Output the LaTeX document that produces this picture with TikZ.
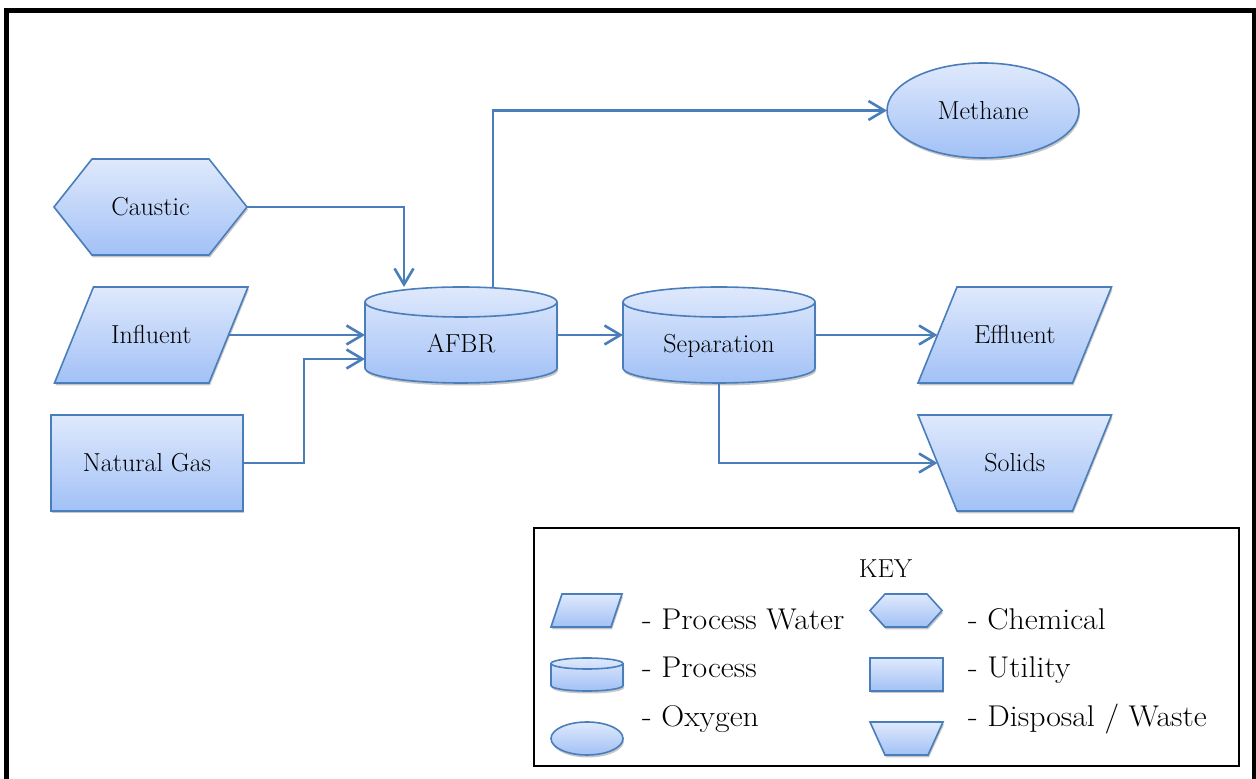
\documentclass[tikz,border=0pt]{standalone}
\usepackage{fontspec}
\usetikzlibrary{shapes.geometric,arrows.meta,shadows}
\pgfdeclarelayer{background}
\pgfsetlayers{background,main}
\definecolor{ln}{RGB}{74,126,187}
\definecolor{ftop}{RGB}{223,233,252}
\definecolor{fbot}{RGB}{162,193,246}
\newcommand\parashp[2]{\path[shp] ([xshift=#2]#1.north west) -- ([xshift=#2]#1.north east) -- ([xshift=-#2]#1.south east) -- ([xshift=-#2]#1.south west) -- cycle;}
\newcommand\trapshp[2]{\path[shp] ([xshift=-#2]#1.north west) -- ([xshift=#2]#1.north east) -- ([xshift=-#2]#1.south east) -- ([xshift=#2]#1.south west) -- cycle;}
\newcommand\hexshp[2]{\path[shp] (#1.west) -- ([xshift=#2]#1.north west) -- ([xshift=-#2]#1.north east) -- (#1.east) -- ([xshift=-#2]#1.south east) -- ([xshift=#2]#1.south west) -- cycle;}
\newcommand\cylshp[3]{\path[shp] ([yshift=-#3]#1.north west) -- ([yshift=#3]#1.south west) arc[start angle=180,end angle=360,x radius=#2,y radius=#3] -- ([yshift=-#3]#1.north east) arc[start angle=0,end angle=180,x radius=#2,y radius=#3] -- cycle;
\draw[draw=ln, line width=1.6pt] ([yshift=-#3]#1.north west) arc[start angle=180,end angle=360,x radius=#2,y radius=#3];}
\begin{document}
\begin{tikzpicture}[x=1pt,y=1pt,
  shp/.style={draw=ln, line width=1.6pt, top color=ftop, bottom color=fbot,
    drop shadow={shadow xshift=1pt, shadow yshift=-2.5pt, opacity=0.22, fill=black}},
  box/.style={inner sep=0pt, outer sep=0pt, font=\fontsize{26}{30}\selectfont, text height=18pt, text depth=0pt},
  cyl/.style={box, minimum width=192pt, minimum height=96pt, text height=36pt},
  kbox/.style={inner sep=0pt, outer sep=0pt},
  keytxt/.style={font=\fontsize{30}{34}\selectfont, inner sep=0pt, anchor=base west, xscale=1.06, transform shape},
  con/.style={draw=ln, line width=2.6pt, -{Straight Barb[length=16pt,width=19pt]}}]
\useasboundingbox (0,0) rectangle (1256,779);
\begin{scope}
\clip (0,0) rectangle (1256,779);
\draw[line width=5pt] (6.5,-10) rectangle (1254,768.5);
\end{scope}
% main nodes
\node[box, minimum width=193pt, minimum height=96pt] (caustic) at (150.5,572) {Caustic};
\node[box, minimum width=154.5pt, minimum height=96pt] (inf) at (151.25,444) {Influent};
\node[box, shp, rectangle, minimum width=192pt, minimum height=96pt] (ng) at (147,316) {Natural Gas};
\node[cyl] (afbr) at (461,444) {AFBR};
\node[cyl] (sep) at (719,444) {Separation};
\node[box, shp, ellipse, minimum width=192pt, minimum height=95pt] (meth) at (983,668.5) {Methane};
\node[box, minimum width=154.5pt, minimum height=96pt] (eff) at (1014.75,444) {Effluent};
\node[box, minimum width=154.5pt, minimum height=96pt] (sol) at (1014.75,316) {Solids};
% key
\node[draw, line width=1.5pt, minimum width=705pt, minimum height=238pt, inner sep=0pt] (key) at (886.5,132) {};
\node[font=\fontsize{26}{30}\selectfont, inner sep=0pt, anchor=base] (keyt) at (885.5,201) {KEY};
\node[kbox, minimum width=60pt, minimum height=33pt] (k1) at (586.5,168.5) {};
\node[kbox, minimum width=72pt, minimum height=33pt] (k2) at (906,168.5) {};
\node[kbox, minimum width=72pt, minimum height=33pt] (k3) at (587,104.5) {};
\node[kbox, shp, rectangle, minimum width=73pt, minimum height=33pt] (k4) at (906.5,104.5) {};
\node[kbox, shp, ellipse, minimum width=72pt, minimum height=33pt] (k5) at (587,40.5) {};
\node[kbox, minimum width=58pt, minimum height=33pt] (k6) at (906.5,40.5) {};
\node[keytxt] (t1) at (642,149) {- Process Water};
\node[keytxt] (t2) at (968,149) {- Chemical};
\node[keytxt] (t3) at (642,101) {- Process};
\node[keytxt] (t4) at (968,101) {- Utility};
\node[keytxt] (t5) at (642,52) {- Oxygen};
\node[keytxt] (t6) at (968,52) {- Disposal / Waste};
% shapes behind text
\begin{pgfonlayer}{background}
\hexshp{caustic}{38pt}
\parashp{inf}{19.5pt}
\cylshp{afbr}{96pt}{15pt}
\cylshp{sep}{96pt}{15pt}
\parashp{eff}{19.5pt}
\trapshp{sol}{19.5pt}
\parashp{k1}{5.5pt}
\hexshp{k2}{15pt}
\cylshp{k3}{36pt}{5.5pt}
\trapshp{k6}{7.5pt}
\end{pgfonlayer}
% connectors
\draw[con] (caustic.east) -| ([xshift=-57pt]afbr.north);
\draw[con] (inf.east) -- (afbr.west);
\draw[con] (ng.east) -- ++(61,0) |- ([yshift=-24pt]afbr.west);
\draw[con] ([xshift=32pt]afbr.north) |- (meth.west);
\draw[con] (afbr.east) -- (sep.west);
\draw[con] (sep.east) -- (eff.west);
\draw[con] (sep.south) |- (sol.west);
\end{tikzpicture}
\end{document}
